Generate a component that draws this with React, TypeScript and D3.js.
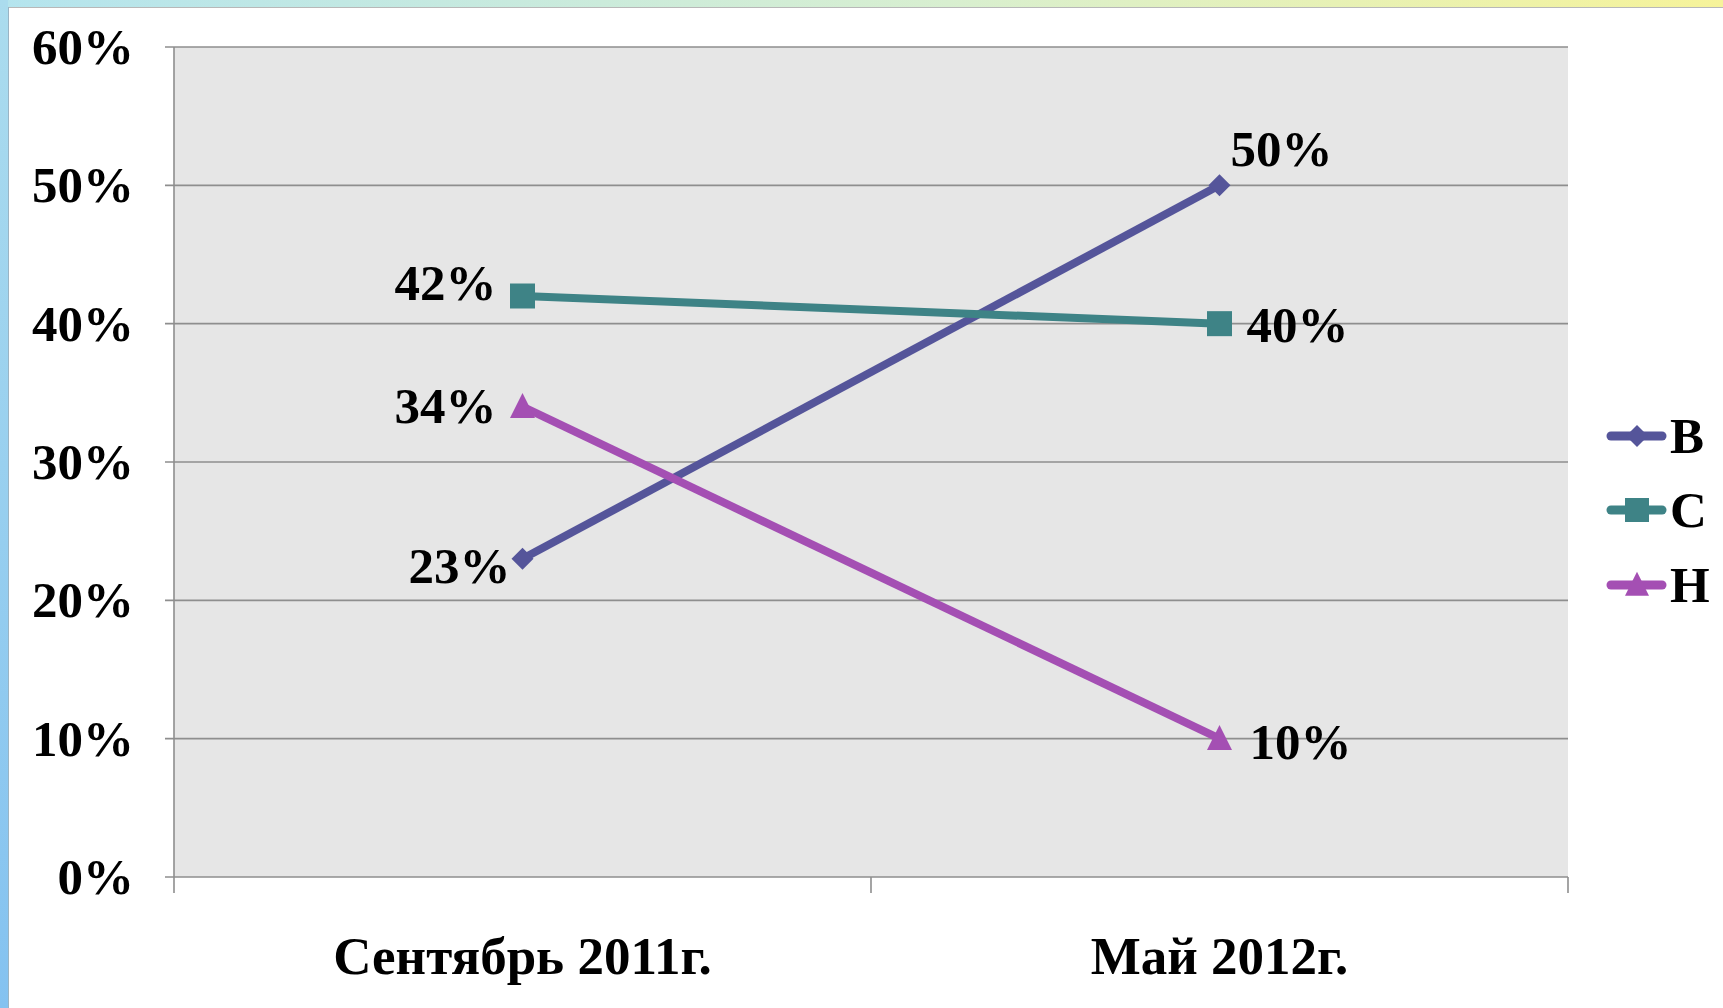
import * as d3 from "d3";

// chart data
const categories = ["Сентябрь 2011г.", "Май 2012г."];
const seriesNames = ["В", "С", "Н"];
const valuesV = [0.23, 0.5];
const valuesS = [0.42, 0.4];
const valuesN = [0.34, 0.1];
const yTicks = [0, 0.1, 0.2, 0.3, 0.4, 0.5, 0.6];

const seriesValues = [valuesV, valuesS, valuesN];
const seriesColors = ["#55559a", "#3e8386", "#a44fb3"];
const seriesMarkers = ["diamond", "square", "triangle"];

// where each data label sits relative to its point
const labelPlacement = [
    [{ anchor: "end", dx: -12, dy: 24 }, { anchor: "start", dx: 11, dy: -19 }],
    [{ anchor: "end", dx: -26, dy: 4 }, { anchor: "start", dx: 27, dy: 18 }],
    [{ anchor: "end", dx: -26, dy: 16 }, { anchor: "start", dx: 30, dy: 20 }],
];

const W = 1723;
const H = 1008;
const margin = { top: 47, right: 155, bottom: 131, left: 174 };
const font = "'Liberation Serif', 'Times New Roman', serif";
const labelSize = 51;

function Marker({ kind, x, y, color, size }: { kind: string; x: number; y: number; color: string; size: number }) {
    if (kind === "square") {
        return <rect x={x - size / 2} y={y - size / 2} width={size} height={size} fill={color} />;
    }
    if (kind === "diamond") {
        const r = size / 2;
        return <path d={`M${x},${y - r}L${x + r},${y}L${x},${y + r}L${x - r},${y}Z`} fill={color} />;
    }
    const h = size;
    return <path d={`M${x},${y - h * 0.55}L${x + size / 2},${y + h * 0.45}L${x - size / 2},${y + h * 0.45}Z`} fill={color} />;
}

function App() {
    const plotW = W - margin.left - margin.right;
    const plotH = H - margin.top - margin.bottom;
    const x0 = margin.left;
    const y0 = margin.top;

    const x = d3.scalePoint<string>().domain(categories).range([x0, x0 + plotW]).padding(0.5);
    const y = d3.scaleLinear().domain([0, 0.6]).range([y0 + plotH, y0]);
    const fmt = d3.format(".0%");

    const bandEdges = [x0, x0 + plotW / 2, x0 + plotW];

    const line = d3.line<number>()
        .x((_, i) => x(categories[i]) as number)
        .y(d => y(d));

    return (
        <svg width={W} height={H} style={{ display: "block" }}>
            <style>{"body{margin:0}"}</style>
            <defs>
                <linearGradient id="topBand" x1="0" x2="1" y1="0" y2="0">
                    <stop offset="0" stopColor="#b4e4ee" />
                    <stop offset="0.55" stopColor="#d8efd0" />
                    <stop offset="1" stopColor="#f6f39a" />
                </linearGradient>
                <linearGradient id="leftBand" x1="0" x2="0" y1="0" y2="1">
                    <stop offset="0" stopColor="#abdcee" />
                    <stop offset="1" stopColor="#84c2f0" />
                </linearGradient>
            </defs>
            <rect x={0} y={0} width={W} height={H} fill="#ffffff" />
            <rect x={0} y={0} width={W} height={7} fill="url(#topBand)" />
            <rect x={0} y={0} width={8} height={H} fill="url(#leftBand)" />
            <line x1={8} x2={W} y1={7.5} y2={7.5} stroke="#b8b8b8" strokeWidth={1} />
            <line x1={8.5} x2={8.5} y1={7} y2={H} stroke="#9ab4c4" strokeWidth={1} />

            {/* plot area */}
            <rect x={x0} y={y0} width={plotW} height={plotH} fill="#e6e6e6" />

            {/* gridlines and y ticks */}
            {yTicks.map(t => (
                <g key={t}>
                    <line x1={x0 - 9} x2={x0 + plotW} y1={y(t)} y2={y(t)} stroke="#8e8e8e" strokeWidth={1.6} />
                    <text x={134} y={y(t) + 17} textAnchor="end" fontFamily={font} fontWeight="bold" fontSize={labelSize} fill="#000">
                        {fmt(t)}
                    </text>
                </g>
            ))}
            <line x1={x0} x2={x0} y1={y0} y2={y0 + plotH} stroke="#8e8e8e" strokeWidth={1.6} />
            {bandEdges.map((bx, i) => (
                <line key={i} x1={bx} x2={bx} y1={y0 + plotH} y2={y0 + plotH + 16} stroke="#8e8e8e" strokeWidth={1.6} />
            ))}

            {/* category labels */}
            {categories.map(c => (
                <text key={c} x={x(c)} y={974} textAnchor="middle" fontFamily={font} fontWeight="bold" fontSize={53} fill="#000">
                    {c}
                </text>
            ))}

            {/* series */}
            {seriesValues.map((vals, s) => (
                <g key={seriesNames[s]}>
                    <path d={line(vals) as string} fill="none" stroke={seriesColors[s]} strokeWidth={8} />
                    {vals.map((v, i) => (
                        <Marker key={i} kind={seriesMarkers[s]} x={x(categories[i]) as number} y={y(v)} color={seriesColors[s]} size={s === 0 ? 22 : 25} />
                    ))}
                    {vals.map((v, i) => {
                        const p = labelPlacement[s][i];
                        return (
                            <text key={"l" + i} x={(x(categories[i]) as number) + p.dx} y={y(v) + p.dy}
                                textAnchor={p.anchor as "start" | "end"} fontFamily={font} fontWeight="bold" fontSize={labelSize} fill="#000">
                                {fmt(v)}
                            </text>
                        );
                    })}
                </g>
            ))}

            {/* legend */}
            {seriesNames.map((n, s) => {
                const ly = [436, 510, 585][s];
                return (
                    <g key={n}>
                        <line x1={1611} x2={1662} y1={ly} y2={ly} stroke={seriesColors[s]} strokeWidth={9} strokeLinecap="round" />
                        <Marker kind={seriesMarkers[s]} x={1637} y={ly} color={seriesColors[s]} size={s === 0 ? 22 : 24} />
                        <text x={1670} y={ly + 17} fontFamily={font} fontWeight="bold" fontSize={labelSize} fill="#000">{n}</text>
                    </g>
                );
            })}
        </svg>
    );
}

export default App;
